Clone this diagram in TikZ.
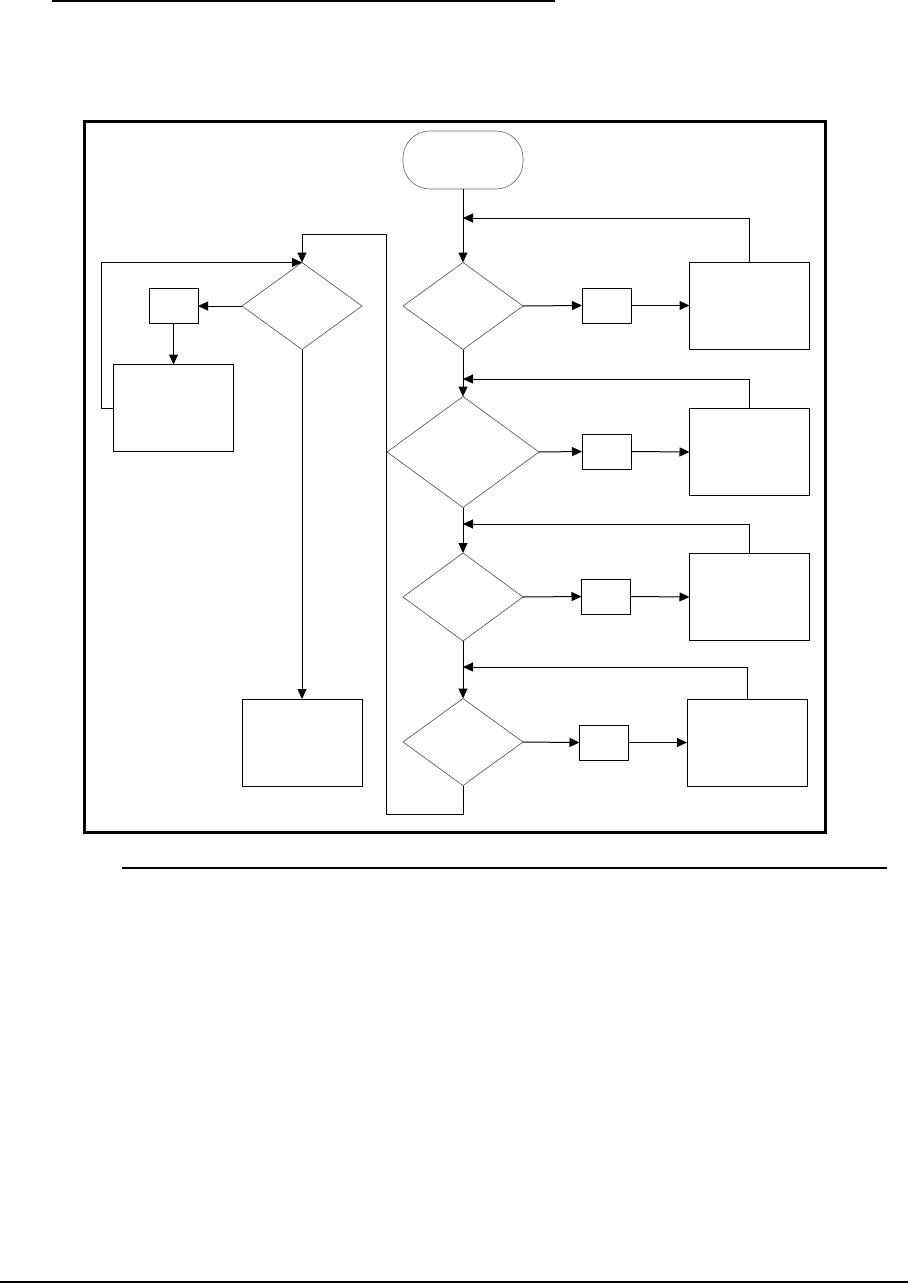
\documentclass[tikz,border=0pt]{standalone}
\usepackage{tikz}
\usetikzlibrary{shapes.geometric,arrows.meta,positioning,calc}

\begin{document}
\begin{tikzpicture}[x=1pt, y=-1pt,
  box/.style={rectangle, draw=black, line width=1pt, inner sep=0pt, outer sep=0pt,
              minimum width=120pt, minimum height=87pt},
  small/.style={box, minimum width=49pt, minimum height=35pt},
  dec/.style={diamond, draw=black!70, line width=0.6pt, inner sep=0pt, outer sep=0pt,
              minimum width=120pt, minimum height=87pt},
  term/.style={rectangle, rounded corners=27pt, draw=black!60, line width=0.6pt,
               inner sep=0pt, minimum width=120pt, minimum height=58pt, outer sep=0pt},
  arr/.style={-{Triangle[length=10pt, width=9pt]}, line width=1pt},
  rule/.style={line width=2pt}
]
  \useasboundingbox (0,0) rectangle (908,1283);
  \draw[rule] (52,1) -- (555,1);
  \draw[line width=1.2pt] (122,868) -- (887,868);
  \draw[rule] (0,1282) -- (908,1282);
  \draw[line width=3pt] (84,121) rectangle (825,832);

  \node[term] (start) at (463,160) {};

  \node[dec] (D1) at (463,306) {};
  \node[dec, minimum width=152pt, minimum height=111pt] (D2) at (463,452) {};
  \node[dec, minimum height=88pt] (D3) at (463,597) {};
  \node[dec] (D4) at (463,742) {};

  \node[small] (S1) at (606.5,305.5) {};
  \node[small] (S2) at (606.5,451.5) {};
  \node[small] (S3) at (606,596.5) {};
  \node[small] (S4) at (604,742.5) {};

  \node[box] (B1) at (749.5,305.5) {};
  \node[box] (B2) at (749.5,452) {};
  \node[box] (B3) at (749.5,597) {};
  \node[box] (B4) at (747,742.5) {};

  \node[dec] (DL) at (302,306) {};
  \node[small, left=44pt of DL] (SL) {};
  \node[box, below=41pt of SL] (BL1) {};
  \node[box] (BL2) at (302,742.5) {};

  \coordinate (m1) at (463,218);
  \coordinate (m2) at (463,379);
  \coordinate (m3) at (463,524);
  \coordinate (m4) at (463,667);
  \coordinate (lpA) at (386,814);
  \coordinate (lpB) at (386,234);

  \draw[arr] (start) -- (D1); \draw[arr] (D1) -- (D2);
  \draw[arr] (D2) -- (D3); \draw[arr] (D3) -- (D4);

  \foreach \i in {1,2,3,4} {
    \draw[arr] (D\i.east) -- (S\i.west);
    \draw[arr] (S\i.east) -- (B\i.west);
    \draw[arr] (B\i.north) |- (m\i);
  }

  \draw[arr] (D4.south) |- (lpA) -- (lpB) -| (DL.north);
  \draw[arr] (DL.west) -- (SL.east);
  \draw[arr] (SL.south) -- (BL1.north);
  \draw[arr] (BL1.west) -- ++(-12,0) |- (DL.north);
  \draw[arr] (DL.south) -- (BL2.north);
\end{tikzpicture}
\end{document}
